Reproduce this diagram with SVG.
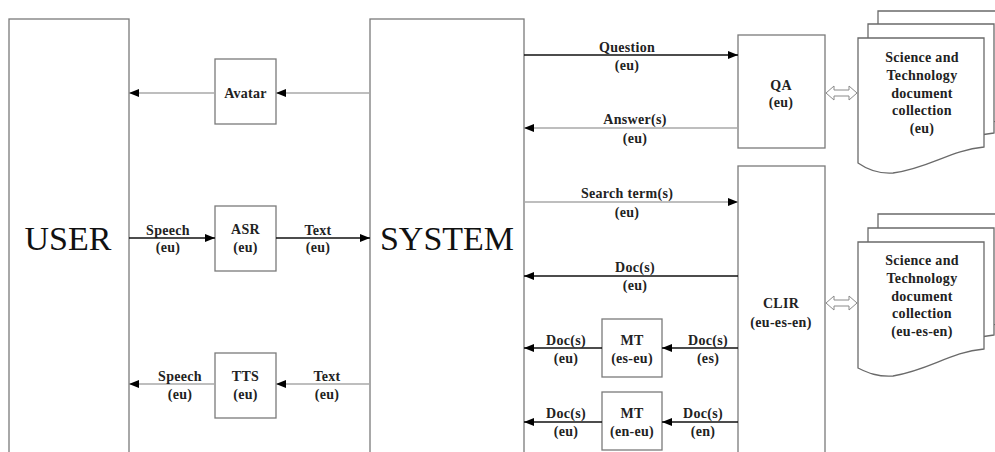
<svg xmlns="http://www.w3.org/2000/svg" width="995" height="452" viewBox="0 0 995 452">
<style>
.box{fill:#fff;stroke:#7a7a7a;stroke-width:1.3}
.page{fill:#fff;stroke:#6a6a6a;stroke-width:1.3}
.lbl{font-size:14px;font-weight:bold;fill:#222;text-anchor:middle;letter-spacing:0.3px}
.big{font-size:34px;fill:#111;text-anchor:middle}
.blk{stroke:#111;stroke-width:1.5;fill:none}
.gry{stroke:#a8a8a8;stroke-width:1.5;fill:none}
.dbl{fill:#fff;stroke:#8a8a8a;stroke-width:1}
</style>
<defs>
<marker id="ah" viewBox="0 0 10 8" refX="10" refY="4" markerWidth="10" markerHeight="8" markerUnits="userSpaceOnUse" orient="auto">
<path d="M0,0 L10,4 L0,8 Z" fill="#000"/>
</marker>
</defs>
<rect width="995" height="452" fill="#fff"/>
<g font-family="Liberation Serif, DejaVu Serif, serif">
<g id="user"><rect class="box" x="9" y="19" width="120" height="450"/><text class="big" x="68" y="250">USER</text></g>
<g id="system"><rect class="box" x="370" y="19" width="154" height="450"/><text class="big" x="447" y="250">SYSTEM</text></g>
<g id="avatar"><rect class="box" x="215" y="59" width="61" height="65"/><text class="lbl" x="245.5" y="98">Avatar</text></g>
<g id="asr"><rect class="box" x="215" y="206" width="61" height="65"/><text class="lbl" x="245.5" y="234">ASR</text><text class="lbl" x="245.5" y="252">(eu)</text></g>
<g id="tts"><rect class="box" x="215" y="353" width="61" height="65"/><text class="lbl" x="245.5" y="381">TTS</text><text class="lbl" x="245.5" y="399">(eu)</text></g>
<g id="qa"><rect class="box" x="738" y="35" width="87" height="113"/><text class="lbl" x="781" y="90">QA</text><text class="lbl" x="781" y="107">(eu)</text></g>
<g id="clir"><rect class="box" x="738" y="166" width="87" height="300"/><text class="lbl" x="781" y="308">CLIR</text><text class="lbl" x="781" y="327">(eu-es-en)</text></g>
<g id="mt1"><rect class="box" x="602" y="319" width="60" height="58"/><text class="lbl" x="632" y="345">MT</text><text class="lbl" x="632" y="363">(es-eu)</text></g>
<g id="mt2"><rect class="box" x="602" y="392" width="60" height="58"/><text class="lbl" x="632" y="418">MT</text><text class="lbl" x="632" y="436">(en-eu)</text></g>

<g id="docs1">
<path class="page" d="M878,11 H1010 V119 C975,122 955,140 913,146 C898,147 888,143 878,136 Z"/>
<path class="page" d="M868,24 H994 V133 C960,136 940,154 903,160 C888,161 878,157 868,150 Z"/>
<path class="page" d="M858,38 H984 V147 C950,150 930,168 893,173 C878,174 868,170 858,163 Z"/>
<text class="lbl" x="922" y="62">Science and</text>
<text class="lbl" x="922" y="80">Technology</text>
<text class="lbl" x="922" y="98">document</text>
<text class="lbl" x="922" y="115">collection</text>
<text class="lbl" x="922" y="133">(eu)</text>
</g>
<g id="docs2">
<path class="page" d="M878,214 H1010 V322 C975,325 955,343 913,349 C898,350 888,346 878,339 Z"/>
<path class="page" d="M868,228 H994 V335 C960,338 940,356 903,362 C888,363 878,359 868,352 Z"/>
<path class="page" d="M858,242 H984 V349 C950,352 930,370 893,376 C878,377 868,373 858,368 Z"/>
<text class="lbl" x="922" y="265">Science and</text>
<text class="lbl" x="922" y="283">Technology</text>
<text class="lbl" x="922" y="301">document</text>
<text class="lbl" x="922" y="318">collection</text>
<text class="lbl" x="922" y="336">(eu-es-en)</text>
</g>

<g id="connectors">
<line class="gry" x1="370" y1="93" x2="276" y2="93" marker-end="url(#ah)"/>
<line class="gry" x1="215" y1="93" x2="129" y2="93" marker-end="url(#ah)"/>
<line class="blk" x1="129" y1="238" x2="215" y2="238" marker-end="url(#ah)"/>
<line class="blk" x1="276" y1="238" x2="370" y2="238" marker-end="url(#ah)"/>
<line class="gry" x1="370" y1="384" x2="276" y2="384" marker-end="url(#ah)"/>
<line class="gry" x1="215" y1="384" x2="129" y2="384" marker-end="url(#ah)"/>
<line class="blk" x1="524" y1="55" x2="738" y2="55" marker-end="url(#ah)"/>
<line class="gry" x1="738" y1="128" x2="524" y2="128" marker-end="url(#ah)"/>
<line class="gry" x1="524" y1="202" x2="738" y2="202" marker-end="url(#ah)"/>
<line class="blk" x1="738" y1="276" x2="524" y2="276" marker-end="url(#ah)"/>
<line class="blk" x1="738" y1="348" x2="662" y2="348" marker-end="url(#ah)"/>
<line class="blk" x1="602" y1="348" x2="524" y2="348" marker-end="url(#ah)"/>
<line class="blk" x1="738" y1="422" x2="662" y2="422" marker-end="url(#ah)"/>
<line class="blk" x1="602" y1="422" x2="524" y2="422" marker-end="url(#ah)"/>
<polygon class="dbl" points="826,93 834,86 834,90 849,90 849,86 857,93 849,100 849,96 834,96 834,100"/>
<polygon class="dbl" points="826,303 834,296 834,300 849,300 849,296 857,303 849,310 849,306 834,306 834,310"/>
<text class="lbl" x="168" y="235">Speech</text><text class="lbl" x="168" y="252">(eu)</text>
<text class="lbl" x="318" y="235">Text</text><text class="lbl" x="318" y="252">(eu)</text>
<text class="lbl" x="180" y="381">Speech</text><text class="lbl" x="180" y="399">(eu)</text>
<text class="lbl" x="327" y="381">Text</text><text class="lbl" x="327" y="399">(eu)</text>
<text class="lbl" x="627" y="52">Question</text><text class="lbl" x="627" y="70">(eu)</text>
<text class="lbl" x="635" y="124">Answer(s)</text><text class="lbl" x="635" y="143">(eu)</text>
<text class="lbl" x="627" y="198">Search term(s)</text><text class="lbl" x="627" y="217">(eu)</text>
<text class="lbl" x="635" y="272">Doc(s)</text><text class="lbl" x="635" y="290">(eu)</text>
<text class="lbl" x="566" y="345">Doc(s)</text><text class="lbl" x="566" y="363">(eu)</text>
<text class="lbl" x="708" y="345">Doc(s)</text><text class="lbl" x="708" y="363">(es)</text>
<text class="lbl" x="566" y="418">Doc(s)</text><text class="lbl" x="566" y="436">(eu)</text>
<text class="lbl" x="703" y="418">Doc(s)</text><text class="lbl" x="703" y="436">(en)</text>
</g>
</g>
</svg>
